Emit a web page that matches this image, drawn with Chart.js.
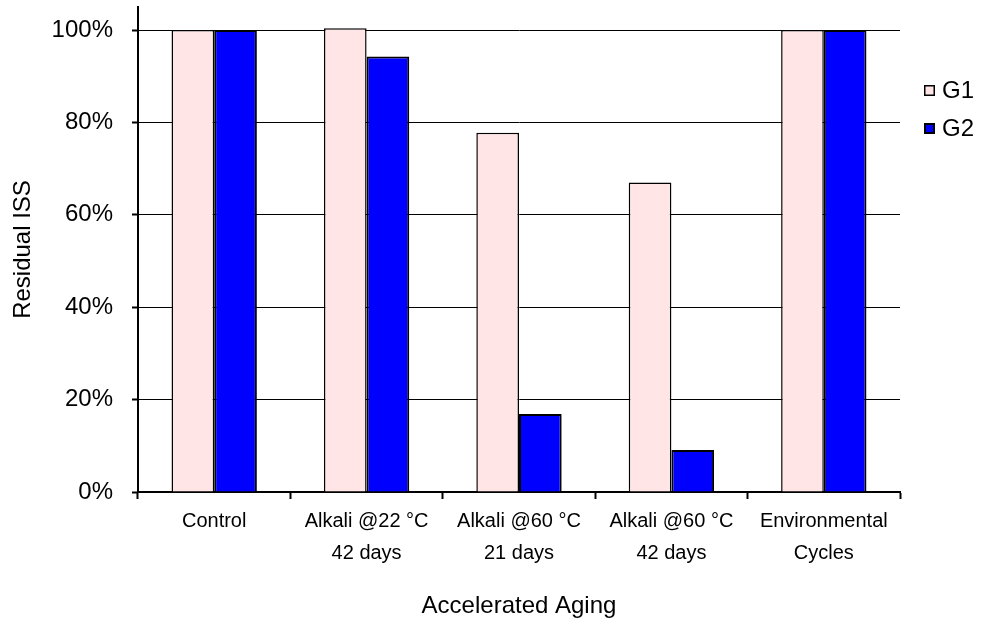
<!DOCTYPE html>
<html>
<head>
<meta charset="utf-8">
<script src="https://cdn.jsdelivr.net/npm/chart.js@4"></script>
<style>
  body { margin: 0; background: #fff; }
  #wrap { width: 984px; height: 627px; }
</style>
</head>
<body>
<div id="wrap"><canvas id="chart" width="984" height="627"></canvas></div>
<script>
const categories = [
    ['Control'],
    ['Alkali @22 °C', '42 days'],
    ['Alkali @60 °C', '21 days'],
    ['Alkali @60 °C', '42 days'],
    ['Environmental', 'Cycles']
];
const seriesNames = ['G1', 'G2'];
const g1Values = [100, 100.4, 77.8, 67, 100];
const g2Values = [100, 94.3, 16.9, 9.1, 100];
const yTicks = [0, 20, 40, 60, 80, 100];

const FONT = "'Liberation Sans', Arial, sans-serif";
const pink = '#FFE5E5';
const blue = '#0000FF';

// legend on the right, drawn by hand so the plot area keeps its place
const sideLegend = {
    id: 'sideLegend',
    afterDraw(chart) {
        const ctx = chart.ctx;
        const items = [
            { label: seriesNames[0], fill: pink, lw: 1.5, y: 85 },
            { label: seriesNames[1], fill: blue, lw: 2, y: 123 }
        ];
        ctx.save();
        items.forEach(it => {
            ctx.fillStyle = it.fill;
            ctx.fillRect(924, it.y, 11, 11);
            ctx.strokeStyle = '#000';
            ctx.lineWidth = it.lw;
            ctx.strokeRect(924 + it.lw / 2, it.y + it.lw / 2, 11 - it.lw, 11 - it.lw);
            ctx.fillStyle = '#000';
            ctx.font = '24px ' + FONT;
            ctx.textBaseline = 'middle';
            ctx.textAlign = 'left';
            ctx.fillText(it.label, 942, it.y + 6);
        });
        ctx.restore();
    }
};

const ctx = document.getElementById('chart').getContext('2d');
new Chart(ctx, {
    type: 'bar',
    data: {
        labels: categories,
        datasets: [
            {
                label: seriesNames[0],
                data: g1Values,
                backgroundColor: pink,
                borderColor: '#000',
                borderWidth: 1.5,
                borderSkipped: 'bottom'
            },
            {
                label: seriesNames[1],
                data: g2Values,
                backgroundColor: blue,
                borderColor: '#000',
                borderWidth: 2,
                borderSkipped: 'bottom'
            }
        ]
    },
    options: {
        responsive: false,
        animation: false,
        datasets: {
            bar: { barPercentage: 1, categoryPercentage: 0.56 }
        },
        layout: { padding: { top: 7, right: 84, left: 0, bottom: 0 } },
        plugins: {
            legend: { display: false },
            tooltip: { enabled: false }
        },
        scales: {
            x: {
                afterFit(scale) { scale.height = 135; },
                grid: {
                    offset: true,
                    drawOnChartArea: false,
                    drawTicks: true,
                    tickLength: 7,
                    tickColor: '#000',
                    tickWidth: 2
                },
                border: { display: true, color: '#000', width: 2 },
                ticks: {
                    color: '#000',
                    padding: 6,
                    maxRotation: 0,
                    font: { family: FONT, size: 20, lineHeight: 1.6 }
                },
                title: {
                    display: true,
                    text: 'Accelerated Aging',
                    color: '#000',
                    padding: { top: 0, bottom: 6 },
                    font: { family: FONT, size: 24 }
                }
            },
            y: {
                min: 0,
                max: 105,
                afterFit(scale) {
                    scale.width = 138;
                    scale.paddingTop = 0;
                    scale.paddingBottom = 0;
                },
                afterBuildTicks(scale) {
                    scale.ticks = yTicks.map(v => ({ value: v }));
                },
                grid: {
                    color: '#000',
                    lineWidth: 1,
                    tickLength: 6,
                    tickColor: '#000',
                    tickWidth: 2
                },
                border: { display: true, color: '#000', width: 2 },
                ticks: {
                    color: '#000',
                    padding: 19,
                    font: { family: FONT, size: 24 },
                    callback: v => v + '%'
                },
                title: {
                    display: true,
                    text: 'Residual ISS',
                    color: '#000',
                    padding: { top: 9, bottom: 0 },
                    font: { family: FONT, size: 24 }
                }
            }
        }
    },
    plugins: [sideLegend]
});
</script>
</body>
</html>
